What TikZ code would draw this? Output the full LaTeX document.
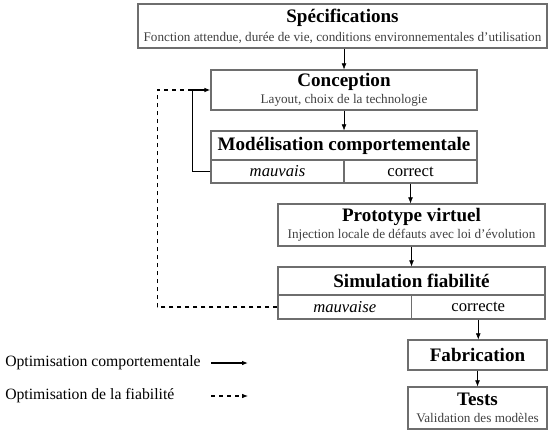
\documentclass[tikz,border=0pt]{standalone}
\usepackage{fontspec}
\setmainfont{Liberation Serif}
\usetikzlibrary{arrows.meta}
\definecolor{boxgray}{HTML}{6E6E6E}
\definecolor{subgray}{HTML}{404040}

\begin{document}
\begin{tikzpicture}[x=0.75pt, y=-0.75pt, >={Latex[length=4.5pt,width=3.5pt]}]
\useasboundingbox (0,0) rectangle (555,434);
  \begin{scope}[every node/.style={rectangle,draw=boxgray,line width=0.8pt,align=center,inner sep=1pt}]
\node[minimum width=306.75pt, minimum height=33pt](spec) at (342.5,26)
  {{\fontsize{14.3}{16}\bfseries Spécifications}\\[2pt]{\fontsize{9.9}{11}\selectfont\color{subgray}Fonction attendue, durée de vie, conditions environnementales d’utilisation}};
\node[minimum width=199.5pt, minimum height=30pt](conc) at (344,90)
  {{\fontsize{14.3}{16}\bfseries Conception}\\[1pt]{\fontsize{9.9}{11}\selectfont\color{subgray}Layout, choix de la technologie}};
\node[minimum width=199.5pt, minimum height=21.75pt](modt) at (344,145.5)
  {\fontsize{14.3}{16}\bfseries Modélisation comportementale};
\node[minimum width=99.75pt, minimum height=17.25pt](modm) at (277.5,171.5)
  {\fontsize{12.5}{14}\itshape mauvais};
\node[minimum width=99.75pt, minimum height=17.25pt](modc) at (410.5,171.5)
  {\fontsize{12.5}{14}\selectfont correct};
\node[minimum width=200.25pt, minimum height=31.5pt](proto) at (411.5,225)
  {{\fontsize{14.3}{16}\bfseries Prototype virtuel}\\[1pt]{\fontsize{9.9}{11}\selectfont\color{subgray}Injection locale de défauts avec loi d’évolution}};
\node[minimum width=200.25pt, minimum height=21pt](simt) at (411.5,281)
  {\fontsize{14.3}{16}\bfseries Simulation fiabilité};
\node[minimum width=100.1pt, minimum height=18pt](simm) at (344.75,307)
  {\fontsize{12.5}{14}\itshape mauvaise};
\node[minimum width=100.1pt, minimum height=18pt](simc) at (478.25,307)
  {\fontsize{12.5}{14}\selectfont correcte};
\node[minimum width=104.25pt, minimum height=22.5pt](fab) at (477.5,355)
  {\fontsize{14.3}{16}\bfseries Fabrication};
\node[minimum width=104.25pt, minimum height=31.5pt](tests) at (477.5,408)
  {{\fontsize{14.3}{16}\bfseries Tests}\\[1pt]{\fontsize{9.9}{11}\selectfont\color{subgray}Validation des modèles}};
\end{scope}

\node[anchor=west, inner sep=0pt, font=\fontsize{11.8}{13}\selectfont](leg1) at (5,363) {Optimisation comportementale};
\node[anchor=west, inner sep=0pt, font=\fontsize{11.8}{13}\selectfont](leg2) at (5,396) {Optimisation de la fiabilité};
\coordinate (l1a) at (211,363);
\coordinate (l1b) at (248,363);
\coordinate (l2a) at (211,396);
\coordinate (l2b) at (248,396);
\coordinate (loop) at ([xshift=-13.5pt]conc.west);

\draw[->, thin] (spec.south -| conc.north) -- (conc.north);
\draw[->, thin] (conc.south) -- (modt.north);
\draw[->, thin] (modc.south) -- (modc.south |- proto.north);
\draw[->, thin] (proto.south) -- (simt.north);
\draw[->, thin] (simc.south) -- (simc.south |- fab.north);
\draw[->, thin] (fab.south) -- (tests.north);

\draw[->, line width=1pt] (modm.west) -| (loop) -- (conc.west);
\draw[dashed, line width=0.8pt] (simm.west) -| ([xshift=-26.25pt]loop) -- (loop);

\draw[->, line width=1pt] (l1a) -- (l1b);
\draw[->, dashed, line width=0.8pt] (l2a) -- (l2b);
\end{tikzpicture}
\end{document}
